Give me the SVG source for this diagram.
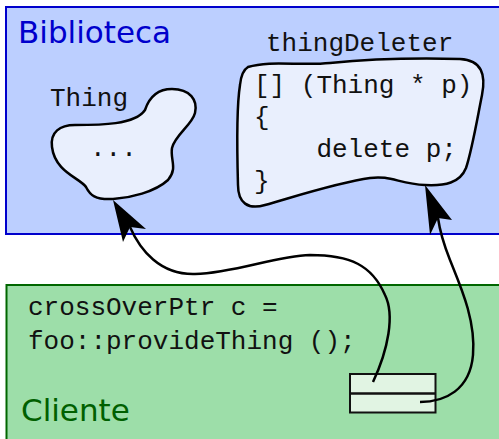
<svg xmlns="http://www.w3.org/2000/svg" width="499" height="439" viewBox="0 0 499 439">
<style>
.mono{font-family:"Liberation Mono","DejaVu Sans Mono",monospace;font-size:26px;fill:#111}
.title{font-family:"DejaVu Sans",Verdana,sans-serif;font-size:31px}
.blob{fill:#e9effd;stroke:#000;stroke-width:2.5}
.conn{fill:none;stroke:#000;stroke-width:2.5}
.head{fill:#000;stroke:none}
</style>
<rect width="499" height="439" fill="#fff"/>
<g id="biblioteca">
<rect x="6" y="7" width="510" height="227" fill="#bccfff" stroke="#0000cc" stroke-width="2"/>
<text class="title" x="18" y="43" fill="#0000cc">Biblioteca</text>
</g>
<g id="cliente">
<rect x="6.5" y="285" width="510" height="200" fill="#9ddea9" stroke="#006600" stroke-width="2"/>
<text class="title" x="21" y="421" fill="#006000">Cliente</text>
<text class="mono" x="28" y="315">crossOverPtr c =</text>
<text class="mono" x="28" y="349">foo::provideThing ();</text>
</g>
<g id="thing">
<path class="blob" d="M52,147 C50,132 60,125 75,125 C100,125 135,125 145,110 C150,95 160,89 172,89 C190,89 198,100 195,113 C192,125 175,135 172,148 C170,160 178,168 168,180 C155,192 130,198 113,199 C95,200 90,195 86,187 C80,178 55,172 52,147 Z"/>
<text class="mono" x="50" y="106">Thing</text>
<text class="mono" x="90" y="156">...</text>
</g>
<g id="thingDeleter">
<path class="blob" d="M248,67 C270,60 300,66 330,63 C370,59 420,58 460,59 C482,60 486,75 482,95 C477,120 472,150 466,168 C460,183 445,186 425,185 C400,184 390,175 370,178 C340,182 300,195 265,205 C248,210 238,203 238,185 C237,150 236,110 240,85 C241,75 243,70 248,67 Z"/>
<text class="mono" x="266" y="51">thingDeleter</text>
<text class="mono" x="254" y="93">[] (Thing * p)</text>
<text class="mono" x="254" y="125">{</text>
<text class="mono" x="254" y="157" xml:space="preserve">    delete p;</text>
<text class="mono" x="254" y="189">}</text>
</g>
<g id="crossOverPtr">
<rect x="350" y="374" width="85.5" height="38.5" fill="#e1f4e3" stroke="#111" stroke-width="2"/>
<line x1="350" y1="393.5" x2="435.5" y2="393.5" stroke="#111" stroke-width="2.5"/>
</g>
<g id="connectors">
<path class="conn" d="M373,382 C388,350 395,315 385,295 C372,265 350,255 310,255 C275,256 235,273 195,274 C160,275 140,250 130,227"/>
<path class="head" d="M113,200 L146,229 L130,227 L123,242 Z"/>
<path class="conn" d="M420,402 C445,402 470,390 473,355 C476,320 460,285 450,260 C444,245 440,232 438,218"/>
<path class="head" d="M425,185 L452,220 L438,218 L430,235 Z"/>
</g>
</svg>
